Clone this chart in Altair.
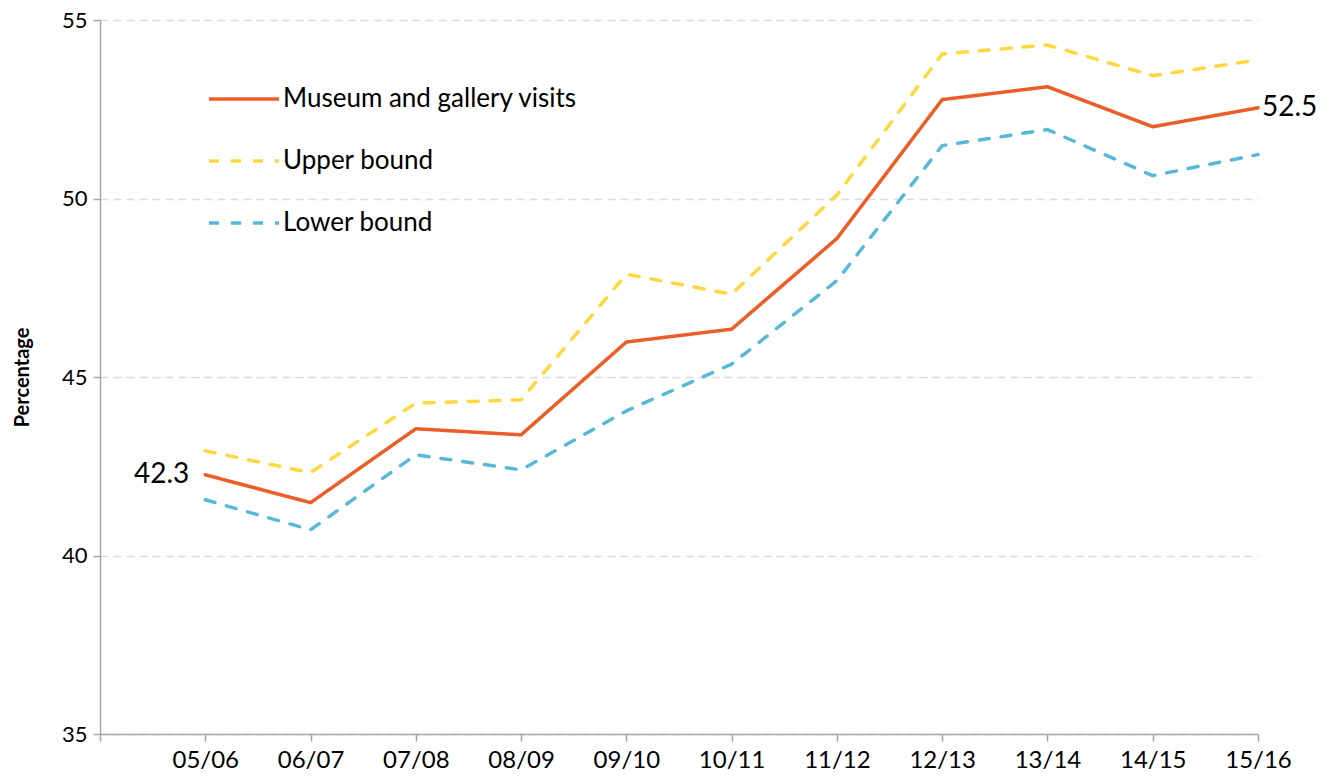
import altair as alt
import pandas as pd

years = ["05/06", "06/07", "07/08", "08/09", "09/10", "10/11",
         "11/12", "12/13", "13/14", "14/15", "15/16"]
series_names = ["Museum and gallery visits", "Upper bound", "Lower bound"]
visits = [42.26, 41.48, 43.55, 43.38, 45.98, 46.34, 48.88, 52.77, 53.13, 52.01, 52.54]
upper = [42.93, 42.32, 44.27, 44.36, 47.88, 47.32, 50.1, 54.05, 54.3, 53.44, 53.88]
lower = [41.56, 40.72, 42.82, 42.4, 44.05, 45.36, 47.7, 51.48, 51.93, 50.64, 51.23]
colors = ["#EB5E28", "#FFD73F", "#58B9D6"]
y_ticks = [35, 40, 45, 50, 55]

rows = []
for name, vals in zip(series_names, [visits, upper, lower]):
    for yr, v in zip(years, vals):
        rows.append({"year": yr, "series": name, "value": v})
df = pd.DataFrame(rows)

labels_df = pd.DataFrame({
    "year": [years[0], years[-1]],
    "value": [visits[0], visits[-1]],
    "side": ["left", "right"],
})

x_domain = [" "] + years
xscale = alt.Scale(type="point", domain=x_domain, padding=0)
xenc = alt.X("year:O", scale=xscale,
             axis=alt.Axis(title=None, labelAngle=0, labelFontSize=24, labelFont="Lato",
                           labelColor="black", labelPadding=7, tickSize=7,
                           tickColor="#A6A6A6", domainColor="#A6A6A6", domainWidth=1.5,
                           tickWidth=1.5, grid=False))
yscale = alt.Scale(domain=[35, 55], nice=False, zero=False)
yaxis = alt.Axis(title="Percentage", values=y_ticks, labelFontSize=22, labelFont="Lato",
                 labelColor="black", labelPadding=6, tickSize=7, tickColor="#A6A6A6",
                 domainColor="#A6A6A6", domainWidth=1.5, tickWidth=1.5,
                 grid=True, gridDash=[8, 5], gridColor="#DCDCDC", gridWidth=1.5,
                 titleFont="Lato", titleFontSize=20, titleFontWeight="bold",
                 titleColor="black", titlePadding=29)

legend = alt.Legend(orient="none", legendX=107, legendY=42, title=None,
                    symbolType="stroke", symbolSize=4900, symbolStrokeWidth=3.5,
                    labelFontSize=26, labelFont="Lato", labelColor="black",
                    labelOffset=2, rowPadding=12, labelLimit=0)

lines = alt.Chart(df).mark_line(strokeWidth=3.5, strokeCap="round", strokeJoin="round").encode(
    x=xenc,
    y=alt.Y("value:Q", scale=yscale, axis=yaxis),
    color=alt.Color("series:N", scale=alt.Scale(domain=series_names, range=colors), legend=legend),
    strokeDash=alt.StrokeDash("series:N",
                              scale=alt.Scale(domain=series_names, range=[[1, 0], [10, 12], [10, 12]]),
                              legend=legend),
    detail="series:N",
)

left_lbl = alt.Chart(labels_df).transform_filter(alt.datum.side == "left").mark_text(
    align="right", baseline="middle", dx=-16, fontSize=28, font="Lato", color="black"
).encode(x=alt.X("year:O", scale=xscale),
         y=alt.Y("value:Q", scale=yscale), text=alt.Text("value:Q", format=".1f"))

right_lbl = alt.Chart(labels_df).transform_filter(alt.datum.side == "right").mark_text(
    align="left", baseline="middle", dx=4, fontSize=28, font="Lato", color="black"
).encode(x=alt.X("year:O", scale=xscale),
         y=alt.Y("value:Q", scale=yscale), text=alt.Text("value:Q", format=".1f"))

chart = alt.layer(lines, left_lbl, right_lbl).properties(
    width=1158, height=714,
    autosize=alt.AutoSizeParams(type="none"),
    padding={"left": 92, "top": 12, "right": 62, "bottom": 40},
).configure_view(strokeWidth=0)

chart.save("out.html", embed_options={"renderer": "svg", "actions": False})
